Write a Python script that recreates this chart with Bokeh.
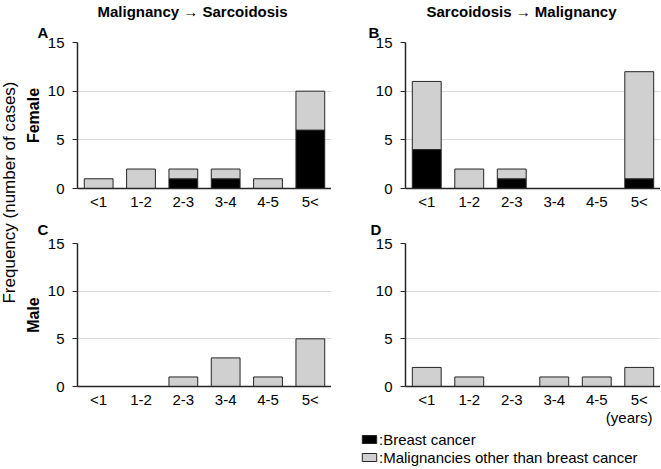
import math
from bokeh.plotting import figure
from bokeh.layouts import row, column
from bokeh.models import (ColumnDataSource, FactorRange, Range1d, FixedTicker,
                          Title, Legend, LegendItem)
from bokeh.embed import file_html
from bokeh.resources import INLINE
from bokeh.core.properties import value

# ---------------- data ----------------
categories = ["<1", "1-2", "2-3", "3-4", "4-5", "5<"]
series_names = ["breast", "other"]
legend_labels = [":Breast cancer", ":Malignancies other than breast cancer"]

female_mal_to_sarc_breast = [0, 0, 1, 1, 0, 6]
female_mal_to_sarc_other = [1, 2, 1, 1, 1, 4]
female_sarc_to_mal_breast = [4, 0, 1, 0, 0, 1]
female_sarc_to_mal_other = [7, 2, 1, 0, 0, 11]
male_mal_to_sarc_breast = [0, 0, 0, 0, 0, 0]
male_mal_to_sarc_other = [0, 0, 1, 3, 1, 5]
male_sarc_to_mal_breast = [0, 0, 0, 0, 0, 0]
male_sarc_to_mal_other = [2, 1, 0, 1, 1, 2]

y_ticks = [0, 5, 10, 15]
y_max = 15

col_titles = ["Malignancy \u2192 Sarcoidosis", "Sarcoidosis \u2192 Malignancy"]
row_labels = ["Female", "Male"]
panel_letters = ["A", "B", "C", "D"]
y_title = "Frequency (number of cases)"
x_unit = "(years)"

# ---------------- style ----------------
FONT = "Liberation Sans"
BLACK = "#000000"
GRAY = "#d0d0d0"
EDGE = "#262626"
GRID = "#d9d9d9"
TICK_FS = "15px"
TITLE_FS = "15px"
ROW_FS = "16px"


def make_panel(breast, other, width, height, bl, bt, bb, letter, letter_offset,
               letter_standoff, main_title=None, title_offset=0, ylabel=None,
               years=False):
    p = figure(x_range=FactorRange(*categories), y_range=Range1d(0, y_max),
               width=width, height=height, output_backend="svg",
               toolbar_location=None, min_border_left=bl, min_border_right=0,
               min_border_top=bt, min_border_bottom=bb,
               outline_line_color=None)
    src = ColumnDataSource(dict(cat=categories, breast=breast, other=other))
    p.vbar_stack(series_names, x="cat", width=0.68, source=src,
                 fill_color=[BLACK, GRAY], line_color=EDGE, line_width=1)

    p.xgrid.visible = False
    p.ygrid.grid_line_color = GRID
    p.ygrid.grid_line_width = 1
    p.yaxis.ticker = FixedTicker(ticks=y_ticks)
    p.yaxis.major_label_text_font = FONT
    p.yaxis.major_label_text_font_size = TICK_FS
    p.yaxis.major_label_text_color = "#000000"
    p.yaxis.major_tick_out = 5
    p.yaxis.major_tick_in = 0
    p.yaxis.minor_tick_line_color = None
    p.yaxis.major_label_standoff = 8
    p.yaxis.axis_line_color = EDGE
    p.yaxis.axis_line_width = 1.5
    p.yaxis.major_tick_line_color = EDGE
    if ylabel:
        p.yaxis.axis_label = ylabel
        p.yaxis.axis_label_text_font = FONT
        p.yaxis.axis_label_text_font_size = ROW_FS
        p.yaxis.axis_label_text_font_style = "bold"
        p.yaxis.axis_label_text_color = "#000000"
        p.yaxis.axis_label_standoff = 3

    p.xaxis.major_label_text_font = FONT
    p.xaxis.major_label_text_font_size = TICK_FS
    p.xaxis.major_label_text_color = "#000000"
    p.xaxis.major_tick_out = 0
    p.xaxis.major_tick_in = 0
    p.xaxis.major_label_standoff = 4
    p.xaxis.axis_line_color = EDGE
    p.xaxis.axis_line_width = 1.5

    if main_title:
        p.title.text = main_title
        p.title.align = "left"
        p.title.offset = title_offset
        p.title.text_font = FONT
        p.title.text_font_size = TITLE_FS
        p.title.text_font_style = "bold"
        p.title.text_color = "#000000"
        p.title.standoff = 0
    p.add_layout(Title(text=letter, align="left", offset=letter_offset,
                       text_font=FONT, text_font_size=TITLE_FS,
                       text_font_style="bold", text_color="#000000",
                       standoff=letter_standoff), "above")
    if years:
        p.add_layout(Title(text=x_unit, align="right", offset=8, text_font=FONT,
                           text_font_size=TICK_FS, text_font_style="normal",
                           text_color="#000000", standoff=-8), "below")
    return p


LW, RW = 311, 329
TOP_H, BOT_H = 213, 216
pA = make_panel(female_mal_to_sarc_breast, female_mal_to_sarc_other, LW, TOP_H, 57, 42, 25,
                panel_letters[0], -40, 4, col_titles[0], 20, row_labels[0])
pB = make_panel(female_sarc_to_mal_breast, female_sarc_to_mal_other, RW, TOP_H, 74, 42, 25,
                panel_letters[1], -37, 4, col_titles[1], 21)
pC = make_panel(male_mal_to_sarc_breast, male_mal_to_sarc_other, LW, BOT_H, 57, 30, 43,
                panel_letters[2], -40, 11, None, 0, row_labels[1])
pD = make_panel(male_sarc_to_mal_breast, male_sarc_to_mal_other, RW, BOT_H, 74, 30, 43,
                panel_letters[3], -35, 11, None, 0, None, years=True)

# left shared label
pl = figure(width=20, height=384, x_range=Range1d(-1, 1), y_range=Range1d(-1, 1),
            output_backend="svg", toolbar_location=None, min_border=0,
            outline_line_color=None, x_axis_type=None, y_axis_type=None)
pl.xgrid.visible = False
pl.ygrid.visible = False
pl.text(x=[-0.1], y=[0], text=[y_title], angle=math.pi / 2, text_align="center",
        text_baseline="middle", text_font=value(FONT), text_font_size="17px",
        text_color="#000000")

# legend figure
leg_x = [5, 5]
leg_top = [1, 1]
pleg = figure(width=660, height=39, x_range=Range1d(0, 1), y_range=Range1d(0, 1),
              output_backend="svg", toolbar_location=None, min_border=0,
              outline_line_color=None, x_axis_type=None, y_axis_type=None)
pleg.xgrid.visible = False
pleg.ygrid.visible = False
r1 = pleg.vbar(x=leg_x[:1], top=leg_top[:1], width=0.1, fill_color=BLACK, line_color=EDGE)
r2 = pleg.vbar(x=leg_x[1:], top=leg_top[1:], width=0.1, fill_color=GRAY, line_color=EDGE)
leg = Legend(items=[LegendItem(label=legend_labels[0], renderers=[r1]),
                    LegendItem(label=legend_labels[1], renderers=[r2])],
             location=(360, 2), orientation="vertical", padding=0, margin=0,
             spacing=0, glyph_width=18, glyph_height=10, label_height=18,
             label_standoff=1, border_line_color=None, background_fill_alpha=0,
             label_text_font=FONT, label_text_font_size=TICK_FS,
             label_text_color="#000000")
pleg.add_layout(leg)

grid = column(row(pA, pB, spacing=0), row(pC, pD, spacing=0), spacing=0)
layout = column(row(pl, grid, spacing=0), pleg, spacing=0)

with open("out.html", "w") as f:
    f.write(file_html(layout, INLINE))
